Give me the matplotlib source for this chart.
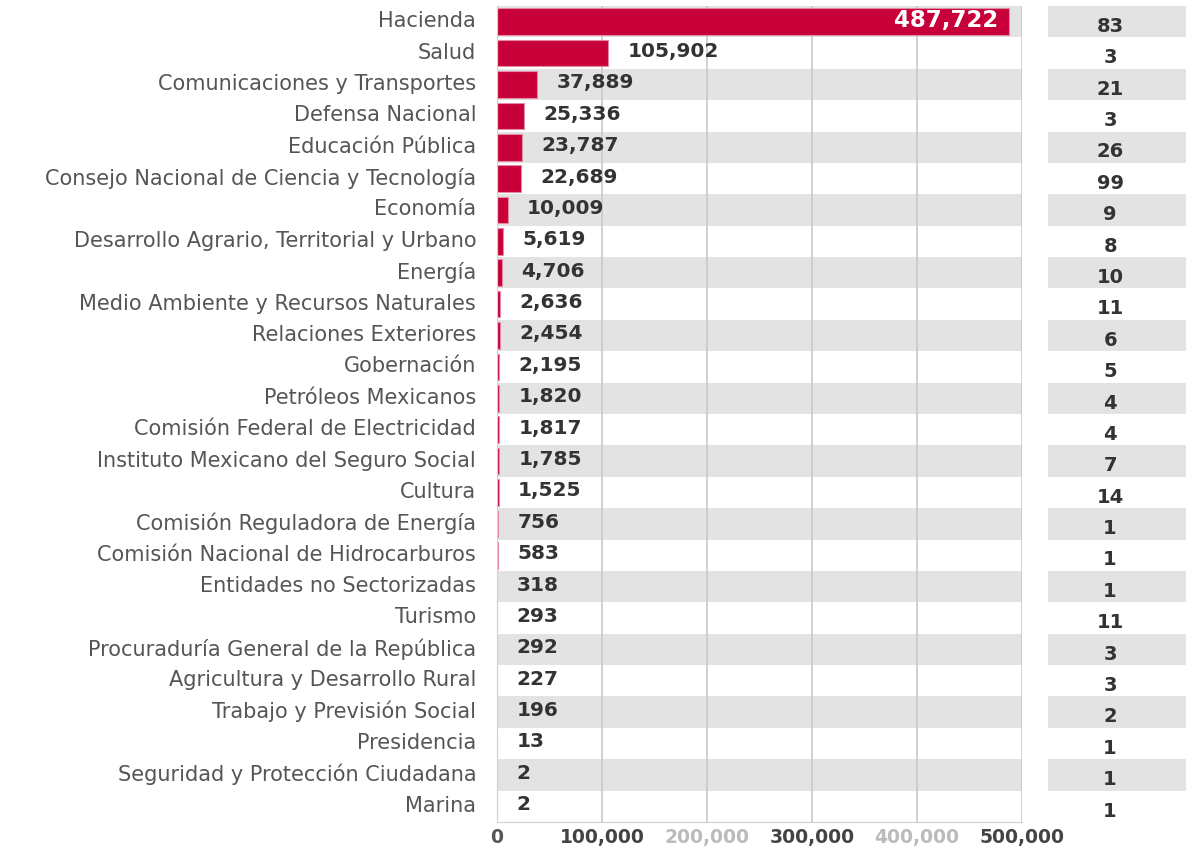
import matplotlib
matplotlib.use("Agg")
import matplotlib.pyplot as plt
import numpy as np

categories = ["Hacienda", "Salud", "Comunicaciones y Transportes", "Defensa Nacional",
              "Educación Pública", "Consejo Nacional de Ciencia y Tecnología", "Economía",
              "Desarrollo Agrario, Territorial y Urbano", "Energía",
              "Medio Ambiente y Recursos Naturales", "Relaciones Exteriores", "Gobernación",
              "Petróleos Mexicanos", "Comisión Federal de Electricidad",
              "Instituto Mexicano del Seguro Social", "Cultura",
              "Comisión Reguladora de Energía", "Comisión Nacional de Hidrocarburos",
              "Entidades no Sectorizadas", "Turismo", "Procuraduría General de la República",
              "Agricultura y Desarrollo Rural", "Trabajo y Previsión Social", "Presidencia",
              "Seguridad y Protección Ciudadana", "Marina"]
values = [487722, 105902, 37889, 25336, 23787, 22689, 10009, 5619, 4706, 2636, 2454,
          2195, 1820, 1817, 1785, 1525, 756, 583, 318, 293, 292, 227, 196, 13, 2, 2]
counts = [83, 3, 21, 3, 26, 99, 9, 8, 10, 11, 6, 5, 4, 4, 7, 14, 1, 1, 1, 11, 3, 3, 2, 1, 1, 1]
xticks = [0, 100000, 200000, 300000, 400000, 500000]
xtick_labels = ["0", "100,000", "200,000", "300,000", "400,000", "500,000"]

W, H = 1186, 846
fig = plt.figure(figsize=(W / 100, H / 100), dpi=100)
FONT = "DejaVu Sans"
BAR = "#c8003a"
BAND = "#e3e3e3"

n = len(categories)
ax = fig.add_axes([497 / W, 1 - 822 / H, (1022 - 497) / W, (822 - 6) / H])
ax.set_xlim(0, 500000)
ax.set_ylim(n - 0.5, -0.5)
for i in range(n):
    if i % 2 == 0:
        ax.axhspan(i - 0.5, i + 0.5, color=BAND, lw=0, zorder=0)
for xt in xticks[1:]:
    ax.axvline(xt, color="#c9c9c9", lw=1.2, zorder=1)
y = np.arange(n)
ax.barh(y, values, height=0.85, color=BAR, edgecolor="#e58aa5", linewidth=0.8, zorder=2)

for i, v in enumerate(values):
    label = f"{v:,}"
    if v > 400000:
        ax.text(v - 10000, i - 0.05, label, ha="right", va="center", color="white",
                fontsize=16.5, fontweight="bold", family=FONT, zorder=3)
    else:
        ax.text(v + 18500, i - 0.05, label, ha="left", va="center", color="#333333",
                fontsize=14.5, fontweight="bold", family=FONT, zorder=3)

ax.set_yticks(y - 0.08)
ax.set_yticklabels(categories, fontsize=15, color="#555555", family=FONT)
ax.tick_params(axis="y", length=0, pad=15)
ax.set_xticks(xticks)
ax.set_xticklabels(xtick_labels, fontsize=13.5, fontweight="bold", family=FONT)
tick_colors = ["#555555", "#444444", "#bbbbbb", "#444444", "#bbbbbb", "#444444"]
for lbl, c in zip(ax.get_xticklabels(), tick_colors):
    lbl.set_color(c)
ax.tick_params(axis="x", length=0, pad=4)
for s in ["top", "right"]:
    ax.spines[s].set_visible(False)
ax.spines["left"].set_color("#d0d0d0")
ax.spines["bottom"].set_color("#d0d0d0")

ax2 = fig.add_axes([1048 / W, 1 - 822 / H, (W - 1048) / W, (822 - 6) / H])
ax2.set_xlim(0, 1)
ax2.set_ylim(n - 0.5, -0.5)
for i in range(n):
    if i % 2 == 0:
        ax2.axhspan(i - 0.5, i + 0.5, color=BAND, lw=0, zorder=0)
    ax2.text(0.45, i + 0.15, str(counts[i]), ha="center", va="center", color="#333333",
             fontsize=14, fontweight="bold", family=FONT)
ax2.axis("off")

fig.savefig("out.png", dpi=100)
